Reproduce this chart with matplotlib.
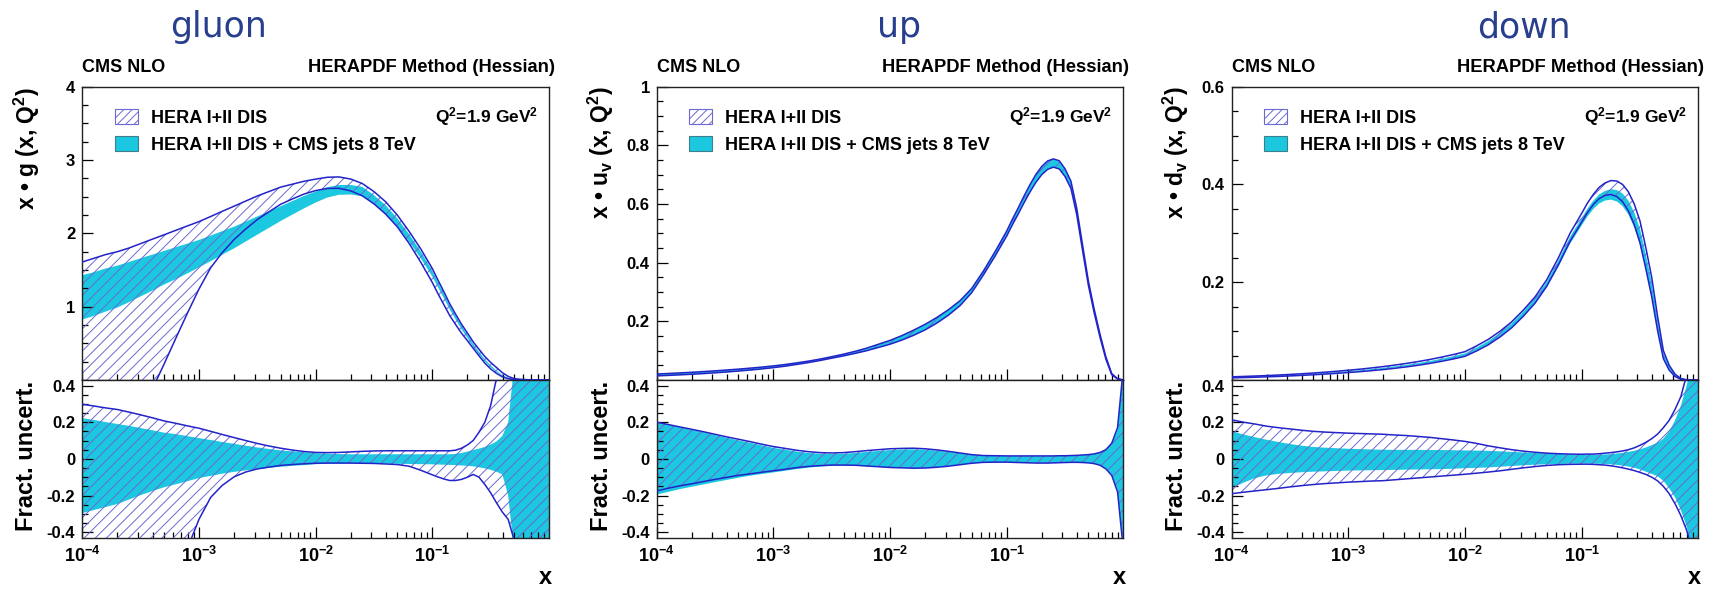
import numpy as np
import matplotlib.pyplot as plt
from matplotlib.patches import Patch
from matplotlib.ticker import FixedLocator, FixedFormatter, MultipleLocator, LogLocator, NullFormatter

plt.rcParams['font.family'] = ['Liberation Sans', 'DejaVu Sans']
plt.rcParams['font.weight'] = 'bold'
plt.rcParams['mathtext.fontset'] = 'custom'
plt.rcParams['mathtext.rm'] = 'Liberation Sans:bold'
plt.rcParams['mathtext.it'] = 'Liberation Sans:bold'
plt.rcParams['mathtext.bf'] = 'Liberation Sans:bold'
plt.rcParams['hatch.linewidth'] = 0.7

# x grid of the PDF curves
x = [1.00e-4, 1.26e-4, 1.58e-4, 2.00e-4, 2.51e-4, 3.16e-4, 3.98e-4, 5.01e-4, 6.31e-4, 7.94e-4,
     1.00e-3, 1.26e-3, 1.58e-3, 2.00e-3, 2.51e-3, 3.16e-3, 3.98e-3, 5.01e-3, 6.31e-3, 7.94e-3,
     1.00e-2, 1.26e-2, 1.58e-2, 2.00e-2, 2.51e-2, 3.16e-2, 3.98e-2, 5.01e-2, 6.31e-2, 7.94e-2,
     0.100, 0.112, 0.126, 0.141, 0.158, 0.178, 0.200, 0.224, 0.251, 0.282,
     0.316, 0.355, 0.398, 0.447, 0.501, 0.562, 0.631, 0.708, 0.794, 0.891, 1.000]

# gluon: central values and fractional uncertainties
gluon_hera = [1.240, 1.289, 1.338, 1.379, 1.434, 1.500, 1.569, 1.640, 1.709, 1.780,
              1.851, 1.939, 2.030, 2.124, 2.218, 2.315, 2.402, 2.486, 2.548, 2.606,
              2.647, 2.674, 2.676, 2.640, 2.574, 2.464, 2.328, 2.155, 1.944, 1.715,
              1.456, 1.303, 1.149, 0.996, 0.860, 0.718, 0.595, 0.473, 0.367, 0.267,
              0.186, 0.118, 0.061, 0.026, 0.009, 0.004, 0.002, 0.001, 0.0, 0.0, 0.0]
gluon_cms = [1.170, 1.213, 1.266, 1.311, 1.364, 1.421, 1.479, 1.540, 1.595, 1.655,
             1.716, 1.786, 1.859, 1.932, 2.015, 2.100, 2.182, 2.266, 2.344, 2.423,
             2.493, 2.558, 2.593, 2.595, 2.570, 2.460, 2.325, 2.152, 1.942, 1.713,
             1.455, 1.302, 1.148, 0.995, 0.859, 0.717, 0.594, 0.472, 0.366, 0.266,
             0.185, 0.117, 0.060, 0.026, 0.009, 0.004, 0.002, 0.001, 0.0, 0.0, 0.0]
gluon_hera_up = [0.298, 0.288, 0.278, 0.269, 0.255, 0.240, 0.224, 0.207, 0.194, 0.180,
                 0.167, 0.150, 0.133, 0.116, 0.100, 0.084, 0.070, 0.058, 0.048, 0.040,
                 0.035, 0.034, 0.035, 0.038, 0.041, 0.043, 0.044, 0.044, 0.044, 0.044,
                 0.044, 0.044, 0.044, 0.044, 0.047, 0.058, 0.076, 0.100, 0.145, 0.200,
                 0.290, 0.440, 0.650, 0.900, 1.200, 1.500, 1.800, 2.000, 2.000, 2.000, 2.000]
gluon_hera_dn = [-2.50, -2.30, -2.10, -1.85, -1.60, -1.35, -1.08, -0.87, -0.67, -0.49,
                 -0.330, -0.210, -0.145, -0.098, -0.072, -0.055, -0.045, -0.036, -0.031, -0.027,
                 -0.024, -0.023, -0.023, -0.023, -0.024, -0.025, -0.028, -0.031, -0.040, -0.062,
                 -0.087, -0.099, -0.110, -0.118, -0.118, -0.112, -0.100, -0.085, -0.100, -0.140,
                 -0.185, -0.240, -0.290, -0.330, -0.440, -0.550, -0.700, -0.850, -1.00, -1.20, -1.50]
gluon_cms_up = [0.222, 0.212, 0.201, 0.190, 0.180, 0.168, 0.156, 0.143, 0.135, 0.124,
                0.113, 0.103, 0.092, 0.082, 0.072, 0.062, 0.054, 0.046, 0.041, 0.036,
                0.031, 0.028, 0.026, 0.025, 0.025, 0.025, 0.025, 0.025, 0.025, 0.025,
                0.025, 0.025, 0.025, 0.025, 0.027, 0.032, 0.040, 0.048, 0.056, 0.065,
                0.078, 0.095, 0.125, 0.200, 0.500, 0.800, 1.000, 1.400, 1.600, 1.800, 2.000]
gluon_cms_dn = [-0.296, -0.279, -0.263, -0.246, -0.222, -0.198, -0.176, -0.155, -0.139, -0.122,
                -0.105, -0.093, -0.081, -0.071, -0.063, -0.056, -0.049, -0.043, -0.038, -0.034,
                -0.029, -0.027, -0.026, -0.025, -0.025, -0.025, -0.026, -0.027, -0.028, -0.029,
                -0.030, -0.031, -0.032, -0.033, -0.034, -0.036, -0.038, -0.041, -0.046, -0.052,
                -0.060, -0.070, -0.085, -0.200, -0.500, -0.800, -1.000, -1.400, -1.600, -1.800, -2.000]

# up valence
uv_hera = [0.0170, 0.0187, 0.0206, 0.0227, 0.0250, 0.0276, 0.0304, 0.0335, 0.0369, 0.0407,
           0.0450, 0.0500, 0.0557, 0.0620, 0.0690, 0.0770, 0.0850, 0.0940, 0.1040, 0.1160,
           0.1280, 0.1430, 0.1600, 0.1800, 0.2030, 0.2300, 0.2620, 0.3050, 0.3650, 0.4300,
           0.5000, 0.5400, 0.5790, 0.6180, 0.6550, 0.6900, 0.7170, 0.7350, 0.7420, 0.7350,
           0.7080, 0.6660, 0.5750, 0.4500, 0.3300, 0.2350, 0.1500, 0.0750, 0.0200, 0.0040, 0.0]
uv_cms = [0.0170, 0.0187, 0.0206, 0.0227, 0.0250, 0.0276, 0.0304, 0.0335, 0.0369, 0.0407,
          0.0450, 0.0500, 0.0557, 0.0620, 0.0690, 0.0770, 0.0850, 0.0940, 0.1040, 0.1160,
          0.1280, 0.1430, 0.1600, 0.1800, 0.2030, 0.2300, 0.2620, 0.3050, 0.3650, 0.4300,
          0.4995, 0.5395, 0.5785, 0.6170, 0.6540, 0.6890, 0.7160, 0.7340, 0.7410, 0.7340,
          0.7075, 0.6655, 0.5750, 0.4500, 0.3300, 0.2350, 0.1500, 0.0750, 0.0200, 0.0040, 0.0]
uv_hera_up = [0.200, 0.187, 0.174, 0.161, 0.148, 0.134, 0.120, 0.107, 0.094, 0.080,
              0.067, 0.057, 0.047, 0.039, 0.034, 0.032, 0.034, 0.039, 0.045, 0.050,
              0.055, 0.057, 0.058, 0.055, 0.049, 0.041, 0.032, 0.023, 0.018, 0.017,
              0.016, 0.016, 0.016, 0.016, 0.016, 0.016, 0.016, 0.016, 0.016, 0.017,
              0.017, 0.018, 0.019, 0.021, 0.023, 0.027, 0.035, 0.050, 0.085, 0.170, 0.500]
uv_hera_dn = [-0.175, -0.160, -0.147, -0.136, -0.124, -0.112, -0.101, -0.090, -0.082, -0.073,
              -0.065, -0.057, -0.048, -0.041, -0.037, -0.034, -0.034, -0.035, -0.039, -0.043,
              -0.047, -0.049, -0.051, -0.050, -0.046, -0.040, -0.032, -0.024, -0.019, -0.018,
              -0.018, -0.019, -0.020, -0.021, -0.022, -0.023, -0.023, -0.023, -0.022, -0.021,
              -0.020, -0.019, -0.019, -0.020, -0.022, -0.026, -0.035, -0.055, -0.090, -0.180, -0.500]
uv_cms_up = [0.200, 0.186, 0.172, 0.158, 0.145, 0.130, 0.115, 0.101, 0.088, 0.074,
             0.060, 0.050, 0.040, 0.032, 0.028, 0.026, 0.028, 0.032, 0.038, 0.043,
             0.048, 0.051, 0.052, 0.050, 0.045, 0.038, 0.030, 0.022, 0.017, 0.016,
             0.015, 0.015, 0.015, 0.015, 0.015, 0.015, 0.015, 0.015, 0.015, 0.016,
             0.016, 0.017, 0.018, 0.020, 0.022, 0.026, 0.033, 0.047, 0.080, 0.160, 0.500]
uv_cms_dn = [-0.195, -0.180, -0.165, -0.152, -0.140, -0.127, -0.115, -0.103, -0.092, -0.083,
             -0.074, -0.065, -0.056, -0.048, -0.042, -0.038, -0.036, -0.037, -0.040, -0.044,
             -0.047, -0.049, -0.050, -0.049, -0.045, -0.039, -0.031, -0.024, -0.019, -0.018,
             -0.017, -0.018, -0.019, -0.020, -0.021, -0.022, -0.022, -0.022, -0.021, -0.020,
             -0.019, -0.018, -0.018, -0.019, -0.021, -0.025, -0.033, -0.052, -0.085, -0.170, -0.500]

# down valence
dv_hera = [0.00536, 0.00608, 0.00681, 0.00772, 0.00872, 0.00980, 0.01107, 0.01243, 0.01396, 0.01566,
           0.01754, 0.01950, 0.02174, 0.02425, 0.02708, 0.03017, 0.03369, 0.03769, 0.04225, 0.04723,
           0.05297, 0.0646, 0.0775, 0.0943, 0.1133, 0.1372, 0.1641, 0.1988, 0.2432, 0.2924,
           0.3327, 0.3528, 0.3704, 0.3833, 0.3909, 0.3946, 0.3921, 0.3835, 0.3667, 0.3396,
           0.3026, 0.2477, 0.1892, 0.1145, 0.0513, 0.0248, 0.0094, 0.0022, 0.0003, 0.0, 0.0]
dv_cms = [0.00528, 0.00599, 0.00671, 0.00760, 0.00859, 0.00965, 0.01090, 0.01224, 0.01375, 0.01543,
          0.01728, 0.01921, 0.02141, 0.02389, 0.02667, 0.02972, 0.03318, 0.03712, 0.04162, 0.04652,
          0.05217, 0.0636, 0.0763, 0.0928, 0.1115, 0.1350, 0.1614, 0.1953, 0.2385, 0.2860,
          0.3244, 0.3430, 0.3593, 0.3710, 0.3776, 0.3804, 0.3776, 0.3694, 0.3535, 0.3284,
          0.2935, 0.2412, 0.1854, 0.1128, 0.0508, 0.0246, 0.0093, 0.0022, 0.0003, 0.0, 0.0]
dv_hera_up = [0.213, 0.200, 0.190, 0.178, 0.170, 0.163, 0.156, 0.150, 0.146, 0.143,
              0.140, 0.138, 0.136, 0.134, 0.130, 0.127, 0.122, 0.117, 0.110, 0.103,
              0.095, 0.084, 0.071, 0.060, 0.050, 0.042, 0.036, 0.031, 0.028, 0.026,
              0.025, 0.026, 0.026, 0.028, 0.031, 0.034, 0.038, 0.043, 0.050, 0.060,
              0.074, 0.090, 0.110, 0.135, 0.170, 0.210, 0.270, 0.340, 0.460, 0.600, 0.900]
dv_hera_dn = [-0.190, -0.182, -0.175, -0.168, -0.161, -0.153, -0.146, -0.140, -0.135, -0.131,
              -0.127, -0.124, -0.121, -0.119, -0.114, -0.109, -0.104, -0.099, -0.094, -0.089,
              -0.084, -0.078, -0.072, -0.065, -0.057, -0.049, -0.042, -0.036, -0.032, -0.030,
              -0.029, -0.029, -0.030, -0.032, -0.034, -0.038, -0.043, -0.049, -0.056, -0.064,
              -0.074, -0.085, -0.100, -0.120, -0.150, -0.190, -0.245, -0.310, -0.390, -0.500, -0.700]
dv_cms_up = [0.150, 0.133, 0.118, 0.104, 0.092, 0.081, 0.072, 0.065, 0.061, 0.058,
             0.055, 0.053, 0.051, 0.050, 0.049, 0.049, 0.049, 0.048, 0.048, 0.047,
             0.046, 0.045, 0.044, 0.041, 0.038, 0.035, 0.032, 0.030, 0.027, 0.024,
             0.022, 0.022, 0.022, 0.023, 0.024, 0.026, 0.029, 0.033, 0.038, 0.044,
             0.052, 0.062, 0.075, 0.088, 0.110, 0.150, 0.210, 0.290, 0.400, 0.550, 0.800]
dv_cms_dn = [-0.160, -0.130, -0.105, -0.090, -0.082, -0.077, -0.073, -0.070, -0.068, -0.066,
             -0.064, -0.063, -0.062, -0.061, -0.060, -0.059, -0.058, -0.057, -0.056, -0.054,
             -0.051, -0.049, -0.047, -0.043, -0.039, -0.035, -0.032, -0.030, -0.028, -0.026,
             -0.025, -0.025, -0.026, -0.027, -0.028, -0.030, -0.033, -0.037, -0.042, -0.049,
             -0.058, -0.070, -0.082, -0.095, -0.120, -0.160, -0.210, -0.280, -0.370, -0.500, -0.700]

titles = ['gluon', 'up', 'down']
ylabels = ['x \u2022 g (x, Q$^{2}$)', 'x \u2022 u$_{v}$ (x, Q$^{2}$)', 'x \u2022 d$_{v}$ (x, Q$^{2}$)']
ymax = [4.0, 1.0, 0.6]
ytick_vals = [[1, 2, 3, 4], [0.2, 0.4, 0.6, 0.8, 1.0], [0.2, 0.4, 0.6]]
ytick_text = [['1', '2', '3', '4'], ['0.2', '0.4', '0.6', '0.8', '1'], ['0.2', '0.4', '0.6']]
yminor = [0.25, 0.05, 0.05]
rel_ticks = [0.4, 0.2, 0.0, -0.2, -0.4]
rel_text = ['0.4', '0.2', '0', '-0.2', '-0.4']
xtick_vals = [1e-4, 1e-3, 1e-2, 1e-1]
xtick_text = ['$10^{-4}$', '$10^{-3}$', '$10^{-2}$', '$10^{-1}$']

CYAN = '#1cc7e0'
HATCH = '#6a6ad2'
EDGE = '#2323c8'
TITLE_BLUE = '#283f8e'

W, H = 1713, 590
fig = plt.figure(figsize=(W / 100, H / 100), dpi=100)


def fx(px):
    return px / W


def fy(py):
    return 1 - py / H


lefts = [82.3, 656.7, 1231.7]
title_x = [219, 899, 1524]
pw = 466.7

pdfs = [
    (gluon_hera, gluon_cms, gluon_hera_up, gluon_hera_dn, gluon_cms_up, gluon_cms_dn),
    (uv_hera, uv_cms, uv_hera_up, uv_hera_dn, uv_cms_up, uv_cms_dn),
    (dv_hera, dv_cms, dv_hera_up, dv_hera_dn, dv_cms_up, dv_cms_dn),
]

xs = np.array(x)


def style_axis(ax):
    ax.set_xscale('log')
    ax.set_xlim(1e-4, 1.0)
    ax.tick_params(which='both', direction='in', top=False, right=False, width=0.9,
                   labelsize=12, pad=5)
    ax.tick_params(which='major', length=8)
    ax.tick_params(which='minor', length=4.5)
    ax.xaxis.set_major_locator(FixedLocator(xtick_vals))
    ax.xaxis.set_minor_locator(LogLocator(base=10, subs=np.arange(2, 10)))
    ax.xaxis.set_minor_formatter(NullFormatter())
    for s in ax.spines.values():
        s.set_linewidth(1.0)
        s.set_color('#222222')


for i in range(3):
    hera, cms, h_up, h_dn, c_up, c_dn = [np.array(a) for a in pdfs[i]]
    left = lefts[i]

    ax = fig.add_axes([fx(left), fy(380), fx(pw), 293.3 / H])
    axr = fig.add_axes([fx(left), fy(537.7), fx(pw), 157.7 / H])

    # upper pad: PDF bands
    ax.fill_between(xs, cms * (1 + c_dn), cms * (1 + c_up), facecolor=CYAN, edgecolor='none', zorder=1)
    ax.fill_between(xs, hera * (1 + h_dn), hera * (1 + h_up), facecolor='none', edgecolor=HATCH,
                    hatch='///', linewidth=0, zorder=2)
    ax.plot(xs, hera * (1 + h_up), color=EDGE, lw=1.1, zorder=3)
    ax.plot(xs, hera * (1 + h_dn), color=EDGE, lw=1.1, zorder=3)

    style_axis(ax)
    ax.set_ylim(0, ymax[i])
    ax.yaxis.set_major_locator(FixedLocator(ytick_vals[i]))
    ax.yaxis.set_major_formatter(FixedFormatter(ytick_text[i]))
    ax.yaxis.set_minor_locator(MultipleLocator(yminor[i]))
    ax.tick_params(axis='x', labelbottom=False)

    # lower pad: fractional uncertainties
    axr.fill_between(xs, c_dn, c_up, facecolor=CYAN, edgecolor='none', zorder=1)
    axr.fill_between(xs, h_dn, h_up, facecolor='none', edgecolor=HATCH,
                     hatch='///', linewidth=0, zorder=2)
    axr.plot(xs, h_up, color=EDGE, lw=1.1, zorder=3)
    axr.plot(xs, h_dn, color=EDGE, lw=1.1, zorder=3)

    style_axis(axr)
    axr.set_ylim(-0.43, 0.43)
    axr.yaxis.set_major_locator(FixedLocator(rel_ticks))
    axr.yaxis.set_major_formatter(FixedFormatter(rel_text))
    axr.yaxis.set_minor_locator(MultipleLocator(0.05))
    axr.xaxis.set_major_formatter(FixedFormatter(xtick_text))
    axr.tick_params(axis='x', labelsize=13, pad=6)

    # headers and labels
    fig.text(fx(title_x[i]), fy(37), titles[i], ha='center', va='baseline',
             fontsize=25, color=TITLE_BLUE, fontweight='normal', family='DejaVu Sans')
    ax.text(0.0, 1.049, 'CMS NLO', transform=ax.transAxes, ha='left', va='baseline', fontsize=13)
    ax.text(1.013, 1.049, 'HERAPDF Method (Hessian)', transform=ax.transAxes,
            ha='right', va='baseline', fontsize=13.2)
    ax.text(0.976, 0.898, 'Q$^{2}$=1.9 GeV$^{2}$', transform=ax.transAxes,
            ha='right', va='center', fontsize=12.5)

    handles = [Patch(facecolor='white', edgecolor=HATCH, hatch='////', linewidth=0.8),
               Patch(facecolor=CYAN, edgecolor='#3f7f8c', linewidth=0.8)]
    ax.legend(handles, ['HERA I+II DIS', 'HERA I+II DIS + CMS jets 8 TeV'],
              loc='upper left', bbox_to_anchor=(0.070, 0.925), frameon=False,
              borderpad=0, borderaxespad=0, handlelength=1.28, handleheight=0.95,
              handletextpad=0.72, labelspacing=0.5, prop={'weight': 'bold', 'size': 13})

    fig.text(fx(left - 55.5), fy(86.7), ylabels[i], rotation=90, ha='center', va='top', fontsize=16.5)
    fig.text(fx(left - 55.5), fy(381), 'Fract. uncert.', rotation=90, ha='center', va='top', fontsize=17)
    fig.text(fx(left + pw - 4), fy(578), 'x', ha='center', va='center', fontsize=17)

fig.savefig('out.png', dpi=100)
